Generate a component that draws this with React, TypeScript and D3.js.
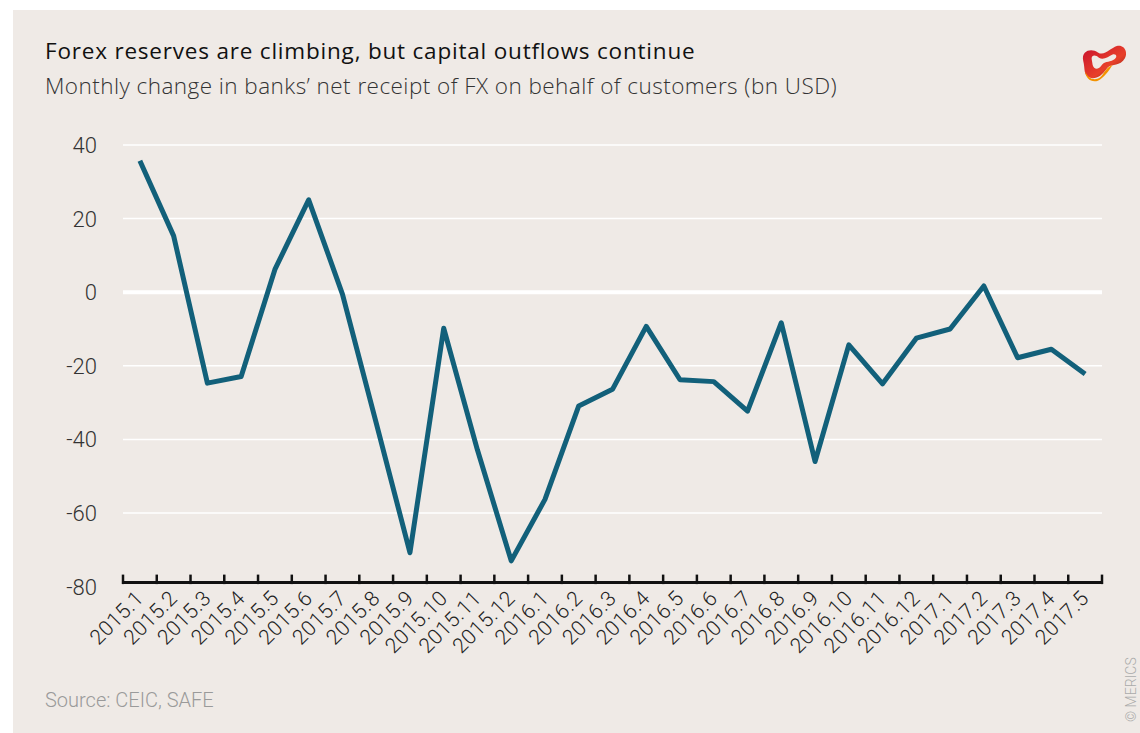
import React, { useEffect, useRef } from 'react';
import * as d3 from 'd3';

const months = [
  '2015.1', '2015.2', '2015.3', '2015.4', '2015.5', '2015.6', '2015.7', '2015.8', '2015.9', '2015.10',
  '2015.11', '2015.12', '2016.1', '2016.2', '2016.3', '2016.4', '2016.5', '2016.6', '2016.7', '2016.8',
  '2016.9', '2016.10', '2016.11', '2016.12', '2017.1', '2017.2', '2017.3', '2017.4', '2017.5',
];

const netReceipt = [
  35.7, 15.3, -24.7, -22.9, 6.2, 25.1, -0.5, -35.5, -70.8, -9.8,
  -42.9, -73.0, -56.3, -30.9, -26.4, -9.3, -23.8, -24.3, -32.3, -8.3,
  -46.0, -14.3, -24.9, -12.5, -10.0, 1.7, -17.8, -15.5, -22.2,
];

const yTicks = [40, 20, 0, -20, -40, -60, -80];

const W = 1140;
const H = 733;
const font = 'Roboto, "Noto Sans", sans-serif';
const titleFont = '"Open Sans", "Noto Sans", sans-serif';

const App: React.FC = () => {
  const ref = useRef<SVGSVGElement>(null);

  useEffect(() => {
    const svg = d3.select(ref.current);
    svg.selectAll('*').remove();

    // panel background
    svg.append('rect')
      .attr('x', 13).attr('y', 10)
      .attr('width', W - 13).attr('height', H - 10)
      .attr('fill', '#efeae6');

    const left = 123;
    const right = 1102;

    const x = d3.scaleBand<string>().domain(months).range([left, right]);
    const y = d3.scaleLinear().domain([-80, 40]).range([586.6, 145]);

    // gridlines
    svg.append('g')
      .selectAll('line')
      .data(yTicks.filter(d => d !== -80))
      .enter()
      .append('line')
      .attr('x1', left)
      .attr('x2', right)
      .attr('y1', d => y(d))
      .attr('y2', d => y(d))
      .attr('stroke', '#ffffff')
      .attr('stroke-width', d => (d === 0 ? 4 : 1.5));

    // y labels
    svg.append('g')
      .selectAll('text')
      .data(yTicks)
      .enter()
      .append('text')
      .attr('x', 97)
      .attr('y', d => y(d))
      .attr('dy', '0.36em')
      .attr('text-anchor', 'end')
      .attr('font-family', font)
      .attr('font-weight', 300)
      .attr('font-size', 22)
      .attr('fill', '#333')
      .text(d => d);

    // x axis
    const axisY = y(-80) - 4;

    svg.append('line')
      .attr('x1', left).attr('x2', right)
      .attr('y1', axisY).attr('y2', axisY)
      .attr('stroke', '#111').attr('stroke-width', 3);

    const boundaries = months.map(m => x(m) as number).concat([right]);
    svg.append('g')
      .selectAll('line')
      .data(boundaries)
      .enter()
      .append('line')
      .attr('x1', d => d).attr('x2', d => d)
      .attr('y1', axisY - 8).attr('y2', axisY + 1.5)
      .attr('stroke', '#111').attr('stroke-width', 2.5);

    // x labels
    svg.append('g')
      .selectAll('text')
      .data(months)
      .enter()
      .append('text')
      .attr('transform', d => {
        const cx = (x(d) as number) + x.bandwidth() / 2 + 5;
        return `translate(${cx}, ${axisY + 17}) rotate(-45)`;
      })
      .attr('text-anchor', 'end')
      .attr('font-family', font)
      .attr('font-weight', 300)
      .attr('font-size', 21)
      .attr('letter-spacing', 0.4)
      .attr('fill', '#222')
      .text(d => d);

    // line
    const line = d3.line<number>()
      .x((_, i) => (x(months[i]) as number) + x.bandwidth() / 2)
      .y(d => y(d));

    svg.append('path')
      .datum(netReceipt)
      .attr('d', line)
      .attr('fill', 'none')
      .attr('stroke', '#12607a')
      .attr('stroke-width', 5)
      .attr('stroke-linejoin', 'round');

    // titles
    svg.append('text')
      .attr('x', 45).attr('y', 59)
      .attr('font-family', titleFont)
      .attr('font-size', 22.5)
      .attr('letter-spacing', 0.8)
      .attr('fill', '#111')
      .text('Forex reserves are climbing, but capital outflows continue');

    svg.append('text')
      .attr('x', 45).attr('y', 94)
      .attr('font-family', titleFont)
      .attr('font-weight', 300)
      .attr('font-size', 22.5)
      .attr('letter-spacing', 0.45)
      .attr('fill', '#333')
      .text('Monthly change in banks\u2019 net receipt of FX on behalf of customers (bn USD)');

    svg.append('text')
      .attr('x', 45).attr('y', 707)
      .attr('font-family', font)
      .attr('font-weight', 300)
      .attr('font-size', 20)
      .attr('fill', '#9a9a9a')
      .text('Source: CEIC, SAFE');

    svg.append('text')
      .attr('transform', 'translate(1136, 722) rotate(-90)')
      .attr('font-family', font)
      .attr('font-weight', 300)
      .attr('font-size', 14)
      .attr('fill', '#aaa')
      .text('\u00a9 MERICS');

    // logo
    const defs = svg.append('defs');
    const grad = defs.append('linearGradient')
      .attr('id', 'logoGrad')
      .attr('x1', '0%').attr('y1', '0%').attr('x2', '100%').attr('y2', '100%');
    grad.append('stop').attr('offset', '0%').attr('stop-color', '#c8102e');
    grad.append('stop').attr('offset', '60%').attr('stop-color', '#e8402a');
    grad.append('stop').attr('offset', '100%').attr('stop-color', '#7a1a10');

    const logo = svg.append('g').attr('transform', 'translate(1079, 44) scale(1.05)');
    logo.append('path')
      .attr('d', 'M4,16 C2,6 12,4 18,8 C24,12 30,4 36,2 C44,0 48,10 42,16 C36,22 30,18 26,24 C22,30 16,34 10,32 C4,30 6,24 4,16 Z')
      .attr('fill', 'url(#logoGrad)');
    logo.append('path')
      .attr('d', 'M6,26 C8,32 14,36 20,32 C24,28 26,22 32,20 C28,26 24,32 18,35 C12,37 6,33 6,26 Z')
      .attr('fill', '#f39200');
    logo.append('path')
      .attr('d', 'M12,14 C12,10 16,10 19,13 C23,16 28,12 32,10 C36,9 37,13 33,15 C28,18 24,16 21,21 C18,25 14,24 13,20 Z')
      .attr('fill', '#efeae6');
  }, []);

  return (
    <div style={{ position: 'absolute', left: 0, top: 0 }}>
      <svg ref={ref} width={W} height={H} />
    </div>
  );
};

export default App;
